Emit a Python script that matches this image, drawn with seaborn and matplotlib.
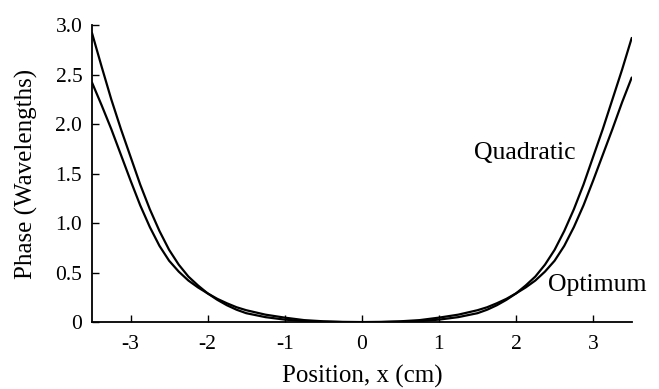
import numpy as np
import pandas as pd
import matplotlib
matplotlib.use("Agg")
import matplotlib.pyplot as plt
import seaborn as sns

# Data
x_pos = [-3.5, -3.375, -3.25, -3.125, -3.0, -2.875, -2.75, -2.625, -2.5, -2.375, -2.25, -2.125,
         -2.0, -1.875, -1.75, -1.625, -1.5,
         -1.25, -1.0, -0.75, -0.5, -0.25, 0.0, 0.25, 0.5, 0.75, 1.0, 1.25,
         1.5, 1.625, 1.75, 1.875, 2.0, 2.125, 2.25, 2.375, 2.5, 2.625, 2.75, 2.875,
         3.0, 3.125, 3.25, 3.375, 3.5]
quadratic = [2.92, 2.58, 2.25, 1.95, 1.67, 1.39, 1.14, 0.92, 0.73, 0.58, 0.46, 0.37,
             0.29, 0.225, 0.17, 0.125, 0.09,
             0.05, 0.025, 0.01, 0.003, 0.0, 0.0, 0.0, 0.003, 0.01, 0.025, 0.05,
             0.09, 0.125, 0.17, 0.225, 0.29, 0.37, 0.46, 0.58, 0.73, 0.92, 1.14, 1.39,
             1.67, 1.95, 2.25, 2.55, 2.87]
optimum = [2.42, 2.19, 1.95, 1.69, 1.43, 1.18, 0.96, 0.77, 0.62, 0.51, 0.42, 0.35,
           0.29, 0.235, 0.19, 0.15, 0.12,
           0.075, 0.045, 0.02, 0.008, 0.002, 0.0, 0.002, 0.008, 0.02, 0.045, 0.075,
           0.12, 0.15, 0.19, 0.235, 0.29, 0.35, 0.42, 0.51, 0.62, 0.77, 0.96, 1.18,
           1.43, 1.69, 1.95, 2.22, 2.47]

x_ticks = [-3, -2, -1, 0, 1, 2, 3]
x_tick_labels = ["-3", "-2", "-1", "0", "1", "2", "3"]
y_ticks = [0, 0.5, 1.0, 1.5, 2.0, 2.5, 3.0]
y_tick_labels = ["0", "0.5", "1.0", "1.5", "2.0", "2.5", "3.0"]

df = pd.DataFrame({
    "x": x_pos * 2,
    "phase": quadratic + optimum,
    "curve": ["Quadratic"] * len(x_pos) + ["Optimum"] * len(x_pos),
})

sns.set_theme(style="ticks")
plt.rcParams["font.family"] = ["Liberation Serif", "DejaVu Serif"]

fig = plt.figure(figsize=(6.59, 3.89), dpi=100)
ax = fig.add_axes([0.1396, 0.172, 0.819, 0.7635])

sns.lineplot(data=df, x="x", y="phase", hue="curve",
             palette={"Quadratic": "black", "Optimum": "black"},
             linewidth=1.6, legend=False, ax=ax, estimator=None, sort=False)

ax.set_xlim(-3.5, 3.5)
ax.set_ylim(0, 3.0)
ax.set_xticks(x_ticks)
ax.set_xticklabels(x_tick_labels)
ax.set_yticks(y_ticks)
ax.set_yticklabels(y_tick_labels)

for s in ["top", "right"]:
    ax.spines[s].set_visible(False)
for s in ["left", "bottom"]:
    ax.spines[s].set_color("black")
    ax.spines[s].set_linewidth(1.3)

ax.tick_params(axis="both", direction="in", length=5, width=1.0, colors="black",
               labelsize=15.5)
ax.tick_params(axis="x", pad=9)
ax.tick_params(axis="y", pad=7)
ax.set_xlabel("Position, x (cm)", fontsize=18, color="black", labelpad=8)
ax.set_ylabel("Phase (Wavelengths)", fontsize=18, color="black", labelpad=12.5)

ax.text(1.46, 1.71, "Quadratic", fontsize=18.5, color="black", va="center", ha="left")
ax.text(2.41, 0.37, "Optimum", fontsize=18.5, color="black", va="center", ha="left")

fig.savefig("out.png", dpi=100)
